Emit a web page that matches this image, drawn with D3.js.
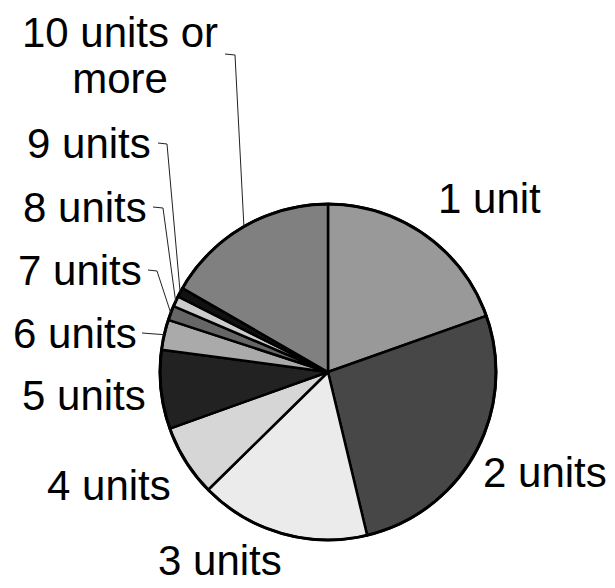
<!DOCTYPE html>
<html>
<head>
<meta charset="utf-8">
<title>Units pie</title>
<script src="https://d3js.org/d3.v7.min.js"></script>
<style>
  body { margin: 0; background: #fff; }
  svg text { font-family: 'Liberation Sans', Arial, sans-serif; font-size: 42px; fill: #000; }
  .slice { stroke: #000; stroke-width: 2.5px; stroke-linejoin: round; }
  .rim { fill: none; stroke: #000; stroke-width: 3px; }
  .leader { fill: none; stroke: #222; stroke-width: 1px; }
</style>
</head>
<body>
<script>
  var width = 615, height = 588;

  // data (share in %), clockwise from 12 o'clock
  var categories = ["1 unit", "2 units", "3 units", "4 units", "5 units",
                    "6 units", "7 units", "8 units", "9 units", "10 units or more"];
  var shares = [19.6, 26.7, 16.4, 6.9, 7.6, 2.9, 1.4, 1.0, 0.9, 16.7];
  var greys = ["#999999", "#474747", "#ebebeb", "#d6d6d6", "#222222",
               "#aaaaaa", "#666666", "#cccccc", "#111111", "#808080"];

  var cx = 328, cy = 372, r = 168;

  // label placement: [x, baseline] of first line, leader elbow (null = no leader)
  var labelPos = [
    { lines: ["1 unit"], x: 438, y: 213, anchor: "start", elbow: null },
    { lines: ["2 units"], x: 483, y: 487, anchor: "start", elbow: null },
    { lines: ["3 units"], x: 158, y: 575, anchor: "start", elbow: null },
    { lines: ["4 units"], x: 47, y: 500, anchor: "start", elbow: null },
    { lines: ["5 units"], x: 22, y: 410, anchor: "start", elbow: null },
    { lines: ["6 units"], x: 13, y: 348, anchor: "start", elbow: [[142, 333], [155, 334]] },
    { lines: ["7 units"], x: 18, y: 285, anchor: "start", elbow: [[148, 270], [157, 271]] },
    { lines: ["8 units"], x: 23, y: 222, anchor: "start", elbow: [[153, 207], [163, 208]] },
    { lines: ["9 units"], x: 27, y: 158, anchor: "start", elbow: [[158, 143], [167, 144]] },
    { lines: ["10 units or", "more"], x: 120, y: 47, anchor: "middle", elbow: [[225, 54], [235, 55]] }
  ];

  var svg = d3.select("body").append("svg")
      .attr("width", width)
      .attr("height", height);

  var pie = d3.pie().sort(null).value(function(d) { return d; });
  var arcs = pie(shares);
  var arc = d3.arc().innerRadius(0).outerRadius(r);

  var g = svg.append("g").attr("transform", "translate(" + cx + "," + cy + ")");

  g.selectAll("path.slice")
    .data(arcs).enter()
    .append("path")
      .attr("class", "slice")
      .attr("fill", function(d, i) { return greys[i]; })
      .attr("d", arc);

  g.append("circle").attr("class", "rim").attr("r", r);

  // leader lines to the small slices
  arcs.forEach(function(a, i) {
    var p = labelPos[i];
    if (!p.elbow) return;
    var mid = (a.startAngle + a.endAngle) / 2;
    var ex = cx + Math.sin(mid) * r, ey = cy - Math.cos(mid) * r;
    var pts = p.elbow.concat([[ex, ey]]);
    svg.append("path")
      .attr("class", "leader")
      .attr("d", d3.line()(pts));
  });

  // labels
  labelPos.forEach(function(p) {
    var t = svg.append("text")
      .attr("x", p.x).attr("y", p.y)
      .attr("text-anchor", p.anchor);
    p.lines.forEach(function(s, k) {
      t.append("tspan").attr("x", p.x).attr("dy", k === 0 ? 0 : 46).text(s);
    });
  });
</script>
</body>
</html>
